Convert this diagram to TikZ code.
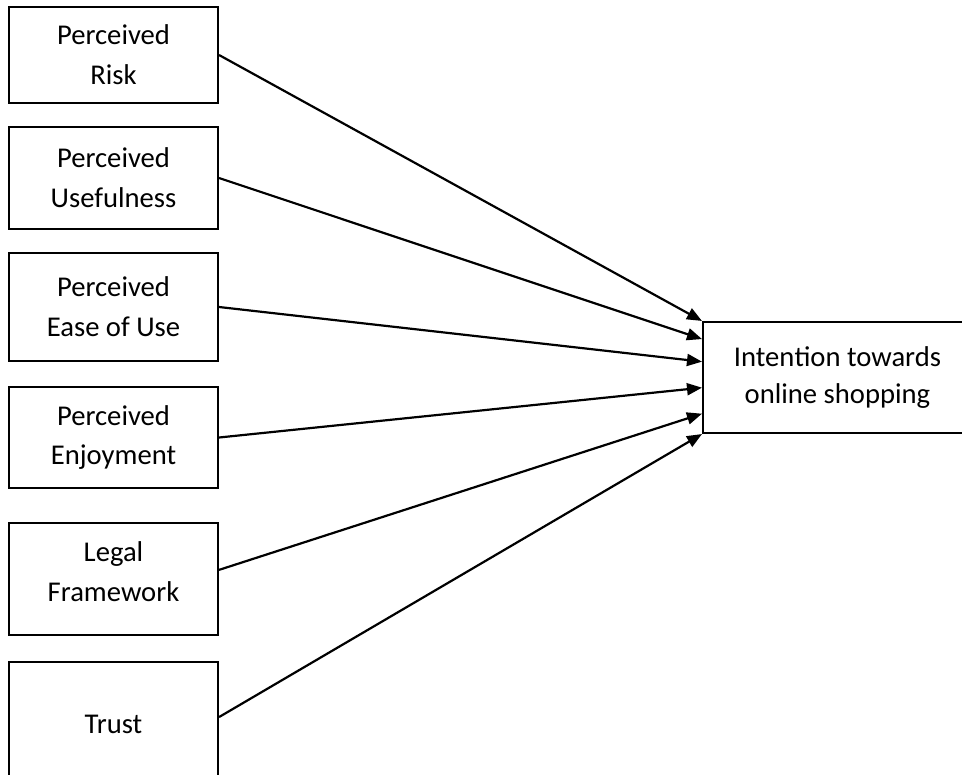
\documentclass[tikz,border=0pt]{standalone}
\usepackage{fontspec}
\setmainfont{Carlito}
\usetikzlibrary{arrows.meta, calc}

\begin{document}
\begin{tikzpicture}[
            x=0.02cm, y=-0.02cm,
            >=Triangle,
            factor/.style={draw, line width=1.2pt, minimum width=4.18cm, align=center,
                font=\fontsize{16.3}{22.6}\selectfont, inner sep=0pt},
            outcome/.style={factor, minimum width=5.38cm, minimum height=2.22cm,
                font=\fontsize{16.3}{21.6}\selectfont},
            flow/.style={line width=1.25pt, {-Triangle[length=0.3cm, width=0.24cm]}},
        ]
        \useasboundingbox (0,0) rectangle (962,774);
        \clip (0,0) rectangle (962,774);

        % The six antecedents, stacked on the left.
        \node[factor, minimum height=1.92cm] (risk) at (113.5,55) {Perceived\\Risk};
        \node[factor, minimum height=2.04cm] (useful) at (113.5,178) {Perceived\\Usefulness};
        \node[factor, minimum height=2.16cm] (ease) at (113.5,307) {Perceived\\Ease of Use};
        \node[factor, minimum height=2.02cm] (enjoy) at (113.5,437.5) {Perceived\\Enjoyment};
        \node[factor, minimum height=2.24cm, text depth=0.3cm] (legal) at (113.5,579) {Legal\\Framework};
        \node[factor, minimum height=2.48cm] (trust) at (113.5,724) {Trust};

        % The dependent construct, running off the right edge (no ti ligature).
        \node[outcome] (intent) at (837.5,377.5) {Inten\kern0pt tion towards\\online shopping};

        % Every antecedent points to the left side of the outcome box.
        \draw[flow] (risk.east) -- ($(intent.north west)!0!(intent.south west)$);
        \draw[flow] (useful.east) -- ($(intent.north west)!0.16!(intent.south west)$);
        \draw[flow] (ease.east) -- ($(intent.north west)!0.36!(intent.south west)$);
        \draw[flow] (enjoy.east) -- ($(intent.north west)!0.59!(intent.south west)$);
        \draw[flow] ($(legal.north east)!0.42!(legal.south east)$) -- ($(intent.north west)!0.82!(intent.south west)$);
        \draw[flow] ($(trust.north east)!0.445!(trust.south east)$) -- ($(intent.north west)!1!(intent.south west)$);
        \end{tikzpicture}
\end{document}
